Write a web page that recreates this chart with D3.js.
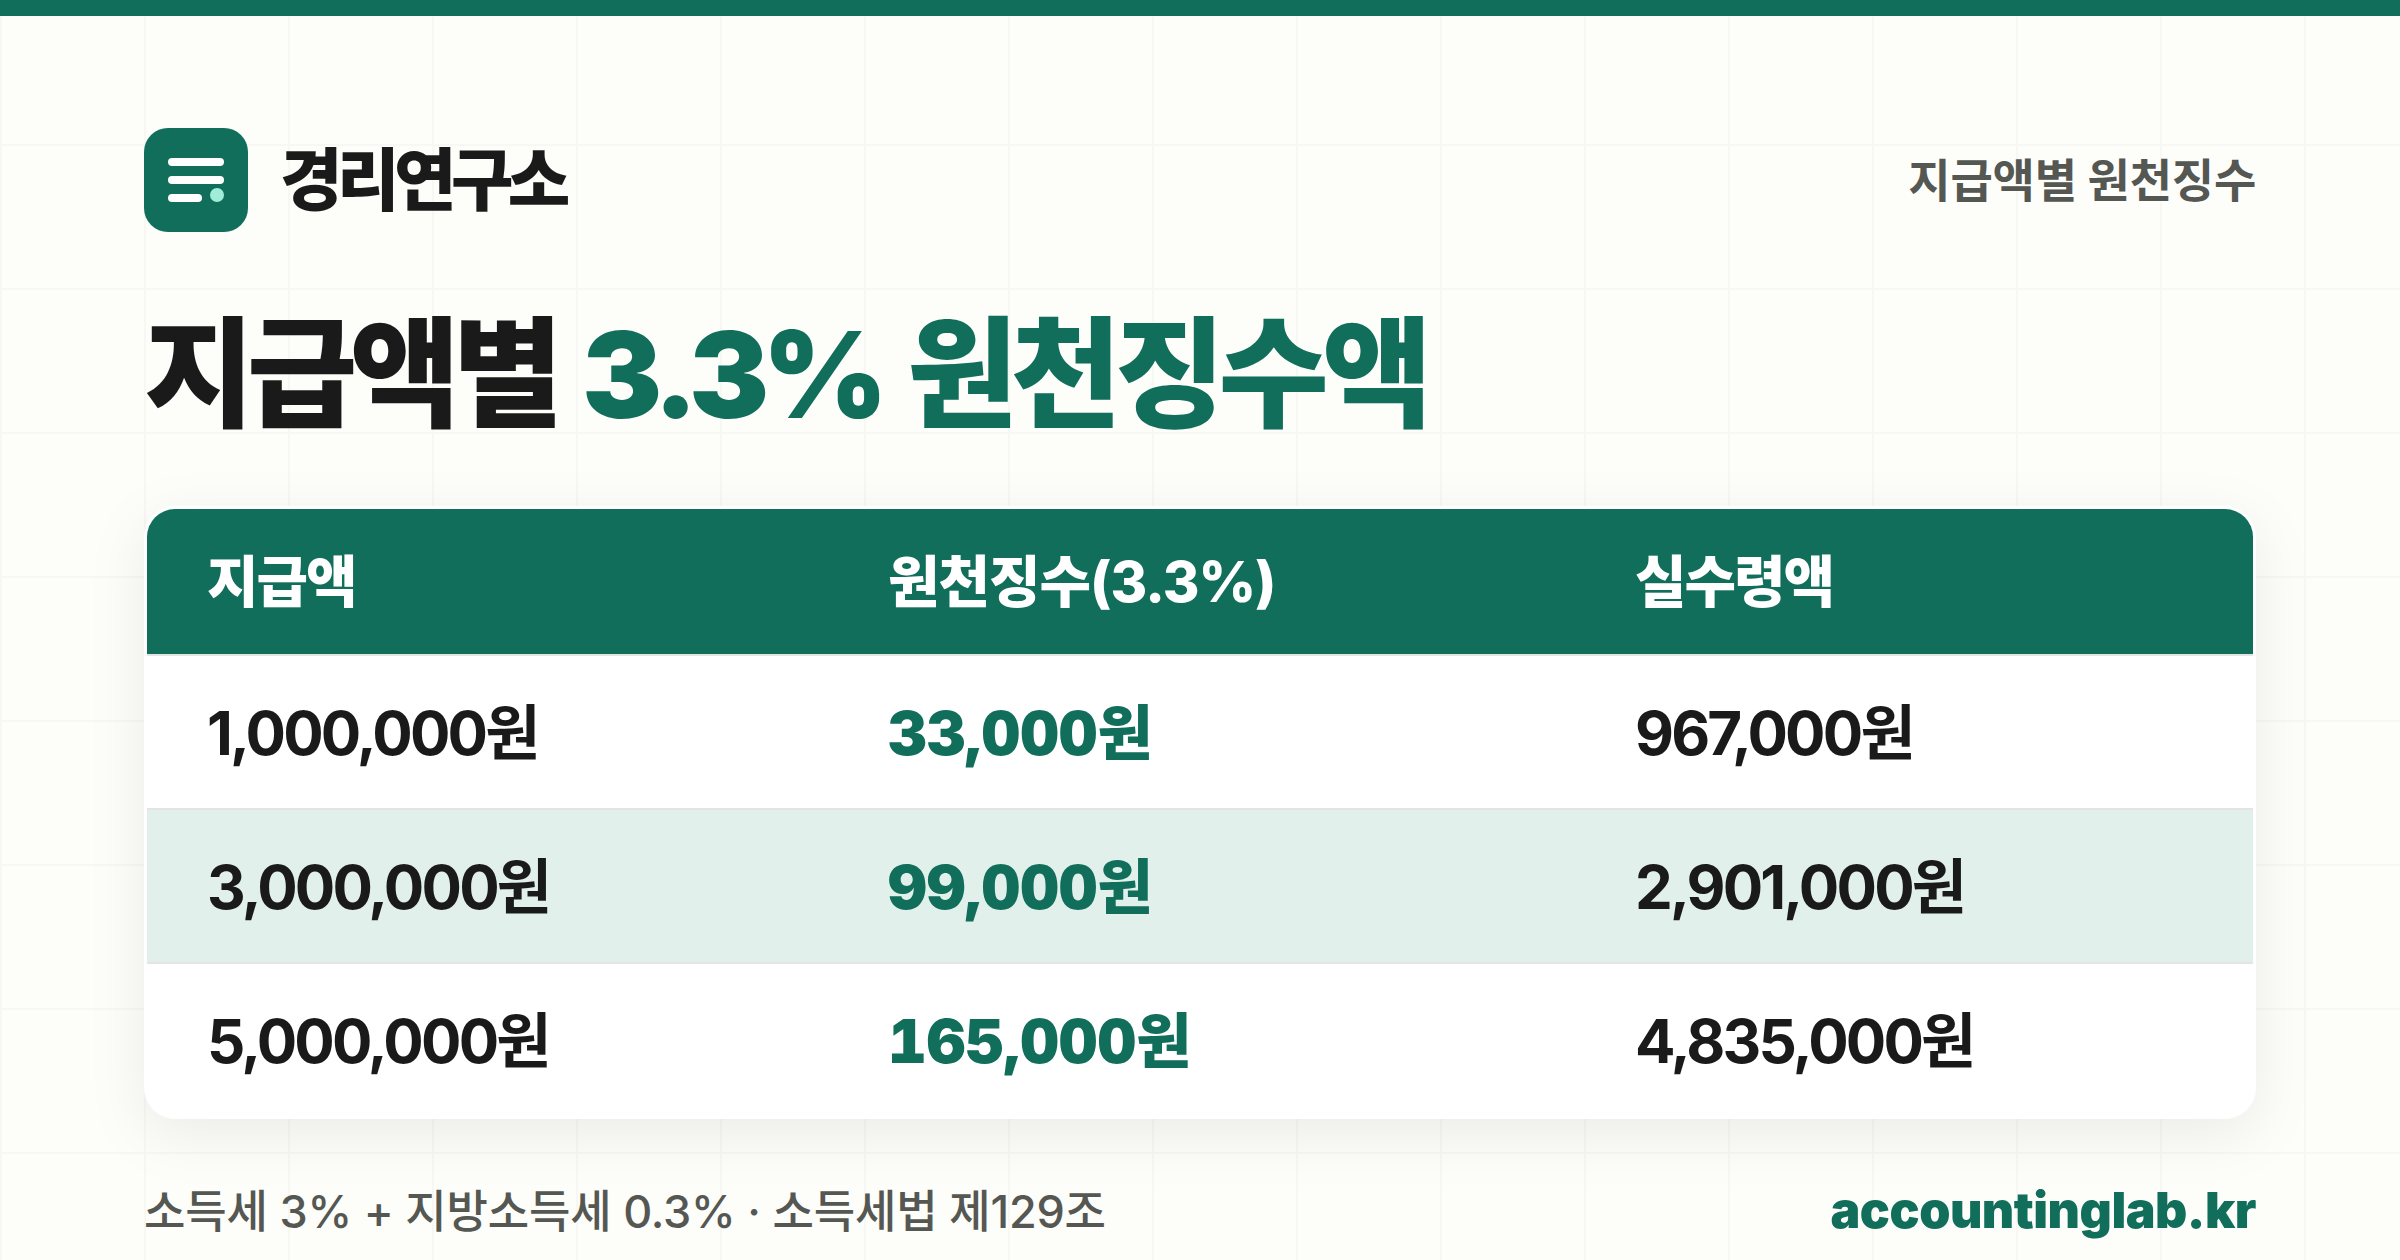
<!DOCTYPE html>
<html lang="ko">
<head>
<meta charset="utf-8">
<title>지급액별 3.3% 원천징수액</title>
<script src="https://cdn.jsdelivr.net/npm/d3@7"></script>
<style>
  html, body { margin: 0; padding: 0; background: #fdfdfa; }
  svg { display: block; }
  text { font-family: Inter, "Noto Sans CJK KR", sans-serif; }
</style>
</head>
<body>
<svg id="chart" width="2400" height="1260"></svg>
<script>
// Table contents
const columns = ["지급액", "원천징수(3.3%)", "실수령액"];
const rows = ["r1", "r2", "r3"];
const payments = [1000000, 3000000, 5000000];
const withheld = [33000, 99000, 165000];
const netPay = [967000, 2901000, 4835000];

const green = "#116e5a";
const ink = "#1a1a1a";
const grey = "#555753";

const svg = d3.select("#chart");
const defs = svg.append("defs");

// Soft shadow under the card
const shadow = defs.append("filter").attr("id", "cardShadow")
    .attr("x", "-10%").attr("y", "-20%").attr("width", "120%").attr("height", "150%");
shadow.append("feDropShadow")
    .attr("dx", 0).attr("dy", 16).attr("stdDeviation", 28)
    .attr("flood-color", "#000").attr("flood-opacity", 0.07);

// Background grid
const gridX = d3.range(0, 2400, 144);
const gridY = d3.range(0, 1260, 144);
svg.append("rect").attr("width", 2400).attr("height", 1260).attr("fill", "#fdfdfa");
svg.selectAll("line.gx").data(gridX).enter().append("line")
    .attr("class", "gx")
    .attr("x1", d => d + 1).attr("x2", d => d + 1)
    .attr("y1", 0).attr("y2", 1260)
    .attr("stroke", "#f7f7f4").attr("stroke-width", 2);
svg.selectAll("line.gy").data(gridY).enter().append("line")
    .attr("class", "gy")
    .attr("x1", 0).attr("x2", 2400)
    .attr("y1", d => d + 1).attr("y2", d => d + 1)
    .attr("stroke", "#f7f7f4").attr("stroke-width", 2);

// Top bar
svg.append("rect").attr("width", 2400).attr("height", 16).attr("fill", green);

// Logo
const logo = svg.append("g").attr("transform", "translate(144,128)");
logo.append("rect").attr("width", 104).attr("height", 104).attr("rx", 24).attr("fill", green);
logo.append("rect").attr("x", 24).attr("y", 30).attr("width", 56).attr("height", 8).attr("rx", 4).attr("fill", "#fff");
logo.append("rect").attr("x", 24).attr("y", 48).attr("width", 56).attr("height", 8).attr("rx", 4).attr("fill", "#fff");
logo.append("rect").attr("x", 24).attr("y", 66).attr("width", 34).attr("height", 8).attr("rx", 4).attr("fill", "#fff");
logo.append("circle").attr("cx", 73).attr("cy", 67).attr("r", 7).attr("fill", "#a0ecd8");

svg.append("text").attr("x", 280).attr("y", 205)
    .attr("font-size", 68).attr("font-weight", 900).attr("letter-spacing", -5.6)
    .attr("fill", ink).text("경리연구소");
svg.append("text").attr("x", 2256).attr("y", 197).attr("text-anchor", "end")
    .attr("font-size", 46).attr("font-weight", 700).attr("letter-spacing", -0.2)
    .attr("fill", grey).text("지급액별 원천징수");

// Title
const title = svg.append("text").attr("y", 418)
    .attr("font-size", 120).attr("font-weight", 900);
title.append("tspan").attr("x", 144).attr("letter-spacing", -7.5)
    .attr("fill", ink).text("지급액별");
title.append("tspan").attr("x", 582).attr("letter-spacing", -6.7).attr("word-spacing", 9)
    .attr("fill", green).text("3.3% 원천징수액");

// Card, header and row bands
const card = { x: 144, y: 506, w: 2112, h: 613 };
const inner = { x: 147, y: 509, w: 2106, h: 610 };
const headerH = 145;

const rowScale = d3.scaleBand().domain(rows).range([656, 1118]);
const colScale = d3.scaleOrdinal().domain(columns).range([207, 888, 1635]);
const headSpacing = d3.scaleOrdinal().domain(columns).range([-2, -1, -2]);

svg.append("rect").attr("x", card.x).attr("y", card.y)
    .attr("width", card.w).attr("height", card.h).attr("rx", 32)
    .attr("fill", "#fff").attr("filter", "url(#cardShadow)");

const headerClip = defs.append("clipPath").attr("id", "headerClip");
headerClip.append("rect").attr("x", inner.x).attr("y", inner.y)
    .attr("width", inner.w).attr("height", inner.h).attr("rx", 28);

svg.append("g").attr("clip-path", "url(#headerClip)")
    .append("rect").attr("x", inner.x).attr("y", inner.y)
    .attr("width", inner.w).attr("height", headerH).attr("fill", green);

svg.append("rect").attr("x", inner.x).attr("y", inner.y + headerH)
    .attr("width", inner.w).attr("height", 2).attr("fill", "#e4e4e2");

svg.selectAll("text.head").data(columns).enter().append("text")
    .attr("class", "head")
    .attr("x", d => colScale(d))
    .attr("y", 602)
    .attr("font-size", 56).attr("font-weight", 800)
    .attr("letter-spacing", d => headSpacing(d))
    .attr("fill", "#fff").text(d => d);

// Highlighted middle row and dividers
svg.append("rect").attr("x", inner.x).attr("y", rowScale("r2"))
    .attr("width", inner.w).attr("height", rowScale.bandwidth())
    .attr("fill", "#e1f0eb");
svg.selectAll("rect.div").data(rows.slice(0, 2)).enter().append("rect")
    .attr("class", "div")
    .attr("x", inner.x).attr("width", inner.w)
    .attr("y", d => rowScale(d) + rowScale.bandwidth() - 2).attr("height", 2)
    .attr("fill", "#e4e4e2");

// Cells
const fmt = v => d3.format(",")(v) + "원";
const cellSets = [
    { col: columns[0], values: payments, fill: ink, weight: 700, spacing: -2.8, numeric: "normal" },
    { col: columns[1], values: withheld, fill: green, weight: 900, spacing: 0, numeric: "tabular-nums" },
    { col: columns[2], values: netPay, fill: ink, weight: 700, spacing: -2.8, numeric: "normal" }
];
cellSets.forEach(set => {
    svg.selectAll(null).data(set.values).enter().append("text")
        .attr("x", colScale(set.col))
        .attr("y", (d, i) => rowScale(rows[i]) + rowScale.bandwidth() / 2 + 22)
        .attr("font-size", 60).attr("font-weight", set.weight)
        .attr("letter-spacing", set.spacing)
        .style("font-variant-numeric", set.numeric)
        .attr("fill", set.fill).text(fmt);
});

// Footer
svg.append("text").attr("x", 144).attr("y", 1228)
    .attr("font-size", 45).attr("font-weight", 500).attr("letter-spacing", -0.2).attr("fill", grey)
    .text("소득세 3% + 지방소득세 0.3% · 소득세법 제129조");
svg.append("text").attr("x", 2256).attr("y", 1228).attr("text-anchor", "end")
    .attr("font-size", 50).attr("font-weight", 900).attr("letter-spacing", -0.5).attr("fill", green)
    .text("accountinglab.kr");
</script>
</body>
</html>
